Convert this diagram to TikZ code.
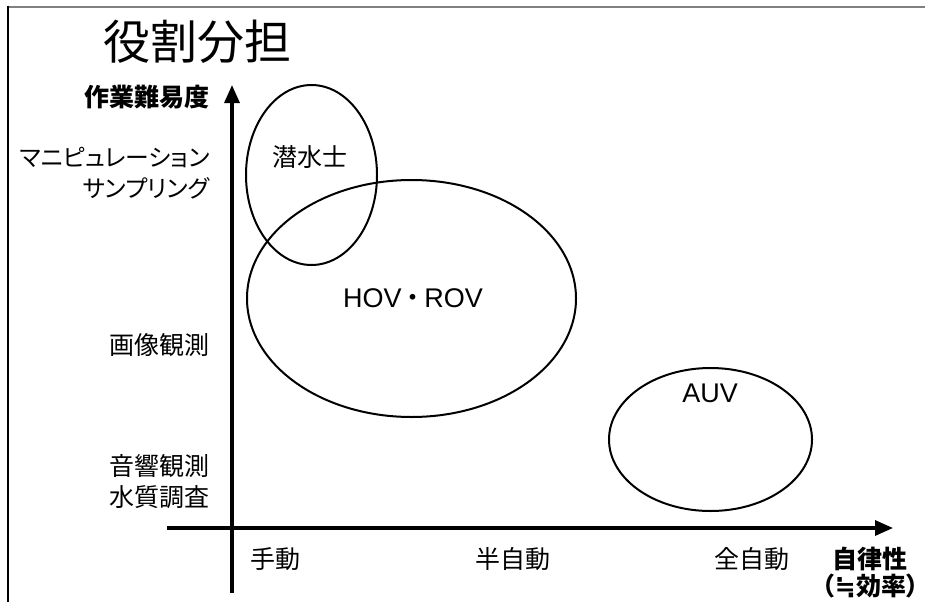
\documentclass[tikz,border=0pt]{standalone}
\usepackage{fontspec}
\usetikzlibrary{shapes.geometric,arrows.meta}
\newfontfamily\jp[RawFeature=+palt]{Noto Sans CJK JP}
\newfontfamily\dvs{DejaVu Sans}
\newfontfamily\lat{Liberation Sans}
\tikzset{
  lbl/.style={font=\jp\fontsize{25}{28}\selectfont, inner sep=0pt},
  klbl/.style={font=\jp\fontsize{23.8}{28}\selectfont, inner sep=0pt},
  blbl/.style={font=\jp\bfseries\fontsize{25}{28}\selectfont, inner sep=0pt},
  latlbl/.style={font=\lat\fontsize{27}{30}\selectfont, inner sep=0pt},
  group/.style={ellipse, draw, line width=2pt, inner sep=0pt},
  axis/.style={line width=3.2pt, -{Triangle[length=18pt,width=15pt]}}
}
\begin{document}
\begin{tikzpicture}[x=1pt,y=-1pt]
\useasboundingbox (0,0) rectangle (925,602);
% frame
\draw[gray, line width=2pt] (8,7) -- (925,7);
\draw[black, line width=1.5pt] (8,6) -- (8,602);
% title
\node[font=\jp\fontsize{47}{50}\selectfont, inner sep=0pt] (title) at (197,42) {役割分担};
% axes
\coordinate (ybot) at (232,593);
\coordinate (ytop) at (232,85);
\coordinate (xleft) at (167,528);
\coordinate (xright) at (893,528);
\draw[axis] (ybot) -- (ytop);
\draw[axis] (xleft) -- (xright);
% y labels
\node[blbl, anchor=east] (ylab) at (210,97) {作業難易度};
\node[klbl, anchor=east] (y1a) at (210,158) {マニピュレーション};
\node[klbl, anchor=east] (y1b) at (210,188) {サンプリング};
\node[lbl, anchor=east] (y2) at (210,345) {画像観測};
\node[lbl, anchor=east] (y3a) at (210,466) {音響観測};
\node[lbl, anchor=east] (y3b) at (210,497) {水質調査};
% x labels
\node[lbl] (x1) at (275,559) {手動};
\node[lbl] (x2) at (513,559) {半自動};
\node[lbl] (x3) at (752,559) {全自動};
\node[blbl] (xlab) at (870,559) {自律性};
\node[blbl, anchor=east] (xlab2) at (919,586) {（\makebox[22pt]{\dvs\bfseries ≒}効率）};
% groups
\node[group, minimum width=131pt, minimum height=180pt] (diver) at (311.5,175) {};
\node[group, minimum width=329pt, minimum height=237pt] (hov) at (411.5,298.5) {};
\node[group, minimum width=203pt, minimum height=143pt] (auv) at (710.5,439.5) {};
\node[lbl] (diverlbl) at (310,157) {潜水士};
\node[latlbl] (hovlbl) at (413,298) {HOV\,{\jp ・}\,ROV};
\node[latlbl] (auvlbl) at (710,393) {AUV};
\end{tikzpicture}
\end{document}
